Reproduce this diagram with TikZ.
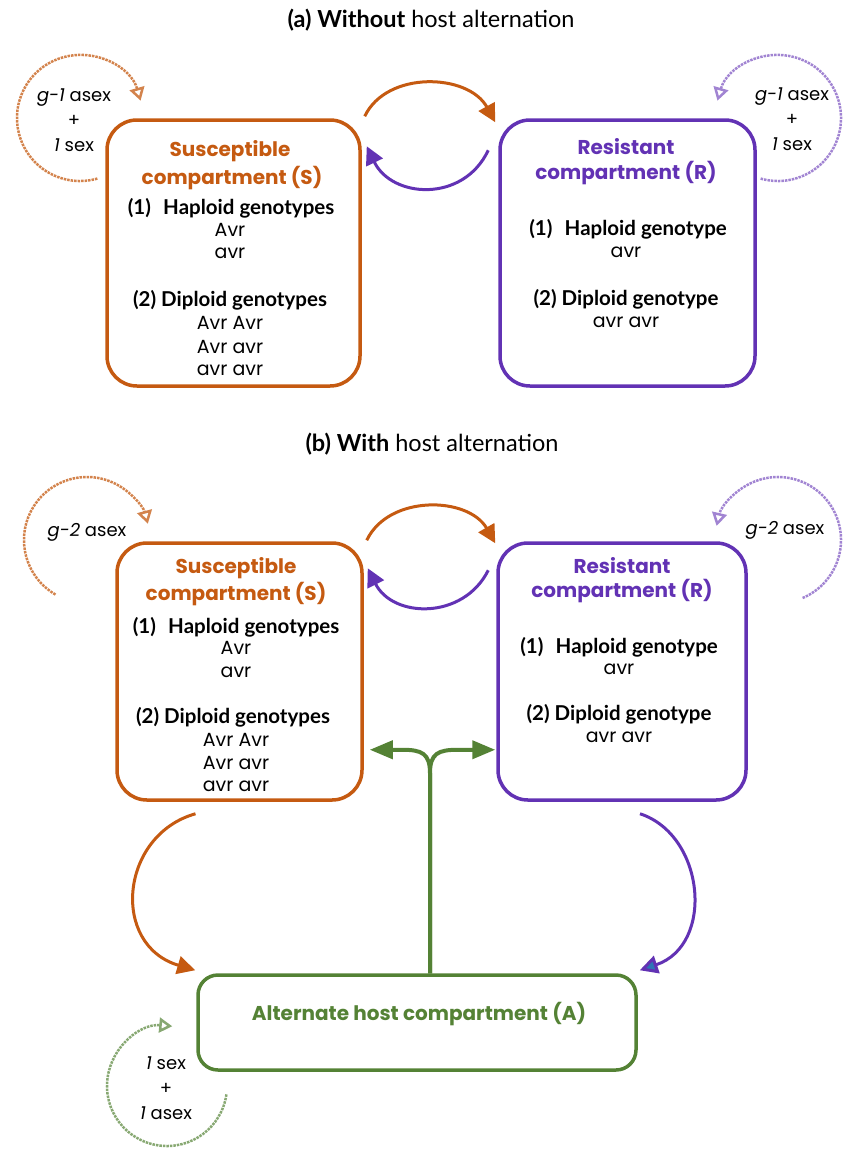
\documentclass[tikz,border=0pt]{standalone}
\usepackage{fontspec}
\setmainfont{Lato}
\newfontfamily\gothic{Poppins}
\usetikzlibrary{calc,arrows.meta}
\definecolor{suscol}{RGB}{197,90,17}
\definecolor{rescol}{RGB}{98,50,180}
\definecolor{altcol}{RGB}{84,130,53}
\definecolor{tipblue}{RGB}{46,117,182}
\tikzset{
  comp/.style={draw, line width=3.5pt, rounded corners=30pt, inner sep=0pt},
  head/.style={font=\gothic\bfseries\fontsize{20}{22}\selectfont},
  geno/.style={font=\bfseries\fontsize{20.5}{21}\selectfont},
  allele/.style={font=\gothic\fontsize{19}{21}\selectfont},
  looptxt/.style={font=\gothic\fontsize{18}{25}\selectfont, align=center},
  loopline/.style={densely dotted, line width=2.5pt, -{Triangle[open,length=13pt,width=15pt]}},
  xarr/.style={line width=3pt, -{Triangle[length=18pt,width=18pt]}},
  garr/.style={altcol, line width=4pt, -{Triangle[length=23pt,width=18pt]}}
}
\begin{document}
\begin{tikzpicture}[x=1pt, y=-1pt]
%% page size of the reference
\useasboundingbox (0,0) rectangle (845,1149);

%% (a) Without host alternation
\node[font=\fontsize{23.5}{26}\selectfont] (titleA) at (431,20) {\textbf{(a) Without} host alternation};
\node[comp, suscol, minimum width=253pt, minimum height=266pt] (S1) at (233.5,253) {};
\node[comp, rescol, minimum width=255pt, minimum height=266pt] (R1) at (627.5,253) {};

\node[head, suscol] (S1h1) at (230,151) {Susceptible};
\node[head, suscol] (S1h2) at (232,178) {compartment (S)};
\node[geno] (S1g1) at (231,208) {(1)\hspace{0.6em}Haploid genotypes};
\node[allele] (S1a1) at (230,230) {Avr};
\node[allele] (S1a2) at (230,253) {avr};
\node[geno] (S1g2) at (230,300) {(2) Diploid genotypes};
\node[allele] (S1a3) at (230,323) {Avr Avr};
\node[allele] (S1a4) at (230,347) {Avr avr};
\node[allele] (S1a5) at (230,370) {avr avr};

\node[head, rescol] (R1h1) at (626,147) {Resistant};
\node[head, rescol] (R1h2) at (626,173) {compartment (R)};
\node[geno] (R1g1) at (628,229) {(1)\hspace{0.6em}Haploid genotype};
\node[allele] (R1a1) at (626,252) {avr};
\node[geno] (R1g2) at (626,299) {(2) Diploid genotype};
\node[allele] (R1a2) at (626,322) {avr avr};

%% exchange between S and R
\draw[xarr, suscol] ($(S1.north east)+(3,-2)$) .. controls +(22,-46) and +(-27,-49) .. ($(R1.north west)+(-3,4)$);
\draw[xarr, rescol] ($(R1.north west)+(-10,32)$) .. controls +(-25,53) and +(25,52) .. ($(S1.north east)+(5,28)$);

%% reproduction loops
\coordinate (cS1) at (80,118);
\coordinate (cR1) at (778,118);
\draw[loopline, suscol!75] ($(cS1)+(74:63)$) arc[start angle=74, end angle=344, radius=63];
\draw[loopline, rescol!60] ($(cR1)+(106:63)$) arc[start angle=106, end angle=-164, radius=63];
\node[looptxt] (lS1) at (74,120) {\textit{g-1} asex\\+\\\textit{1} sex};
\node[looptxt] (lR1) at (792,119) {\textit{g-1} asex\\+\\\textit{1} sex};

%% (b) With host alternation
\node[font=\fontsize{23.5}{26}\selectfont] (titleB) at (432,444) {\textbf{(b) With} host alternation};
\node[comp, suscol, minimum width=245pt, minimum height=257pt] (S2) at (239.5,671.5) {};
\node[comp, rescol, minimum width=248pt, minimum height=257pt] (R2) at (622,671.5) {};
\node[comp, altcol, minimum width=438pt, minimum height=95pt, rounded corners=20pt] (A) at (417,1022.5) {};

\node[head, suscol] (S2h1) at (236,568) {Susceptible};
\node[head, suscol] (S2h2) at (236,594) {compartment (S)};
\node[geno] (S2g1) at (236,627) {(1)\hspace{0.6em}Haploid genotypes};
\node[allele] (S2a1) at (236,648) {Avr};
\node[allele] (S2a2) at (236,672) {avr};
\node[geno] (S2g2) at (233,717) {(2) Diploid genotypes};
\node[allele] (S2a3) at (236,740) {Avr Avr};
\node[allele] (S2a4) at (236,763) {Avr avr};
\node[allele] (S2a5) at (236,786) {avr avr};

\node[head, rescol] (R2h1) at (622,566) {Resistant};
\node[head, rescol] (R2h2) at (622,591) {compartment (R)};
\node[geno] (R2g1) at (619,647) {(1)\hspace{0.6em}Haploid genotype};
\node[allele] (R2a1) at (619,669) {avr};
\node[geno] (R2g2) at (619,714) {(2) Diploid genotype};
\node[allele] (R2a2) at (619,737) {avr avr};

\node[head, altcol] (Ah) at (419,1014) {Alternate host compartment (A)};

%% exchange between S and R
\draw[xarr, suscol] ($(S2.north east)+(3,-1)$) .. controls +(22,-46) and +(-27,-47) .. ($(R2.north west)+(-1,2)$);
\draw[xarr, rescol] ($(R2.north west)+(-8,29)$) .. controls +(-25,50) and +(25,50) .. ($(S2.north east)+(4,27)$);

%% to the alternate host
\draw[xarr, suscol] ($(S2.south)+(-44,12)$) .. controls (120,835) and (110,945) .. ($(A.north west)+(-1,-3)$);
\draw[line width=3pt, rescol, -{Triangle[length=18pt,width=18pt,fill=tipblue]}] ($(R2.south)+(18,12)$) .. controls (705,835) and (715,945) .. ($(A.north east)+(2,-3)$);

%% back from the alternate host
\coordinate (fork) at ($(A.north)+(13,-200)$);
\draw[garr] ($(A.north)+(13,0)$) -- (fork) .. controls +(0,-20) and +(20,0) .. ($(S2.south east)+(38,-52)$) -- ($(S2.south east)+(6,-52)$);
\draw[garr] ($(A.north)+(13,0)$) -- (fork) .. controls +(0,-20) and +(-20,0) .. ($(R2.south west)+(-38,-52)$) -- ($(R2.south west)+(-1,-52)$);

%% reproduction loops
\coordinate (cS2) at (87,540);
\coordinate (cR2) at (778,540);
\coordinate (cA) at (167,1086);
\draw[loopline, suscol!75] ($(cS2)+(120:63)$) arc[start angle=120, end angle=345, radius=63];
\draw[loopline, rescol!60] ($(cR2)+(67:63)$) arc[start angle=67, end angle=-167, radius=63];
\draw[loopline, altcol!70] ($(cA)+(8:60)$) arc[start angle=8, end angle=275, radius=60];
\node[looptxt] (lS2) at (87,532) {\textit{g-2} asex};
\node[looptxt] (lR2) at (785,530) {\textit{g-2} asex};
\node[looptxt] (lA) at (166,1088) {\textit{1} sex\\+\\\textit{1} asex};
\end{tikzpicture}
\end{document}
